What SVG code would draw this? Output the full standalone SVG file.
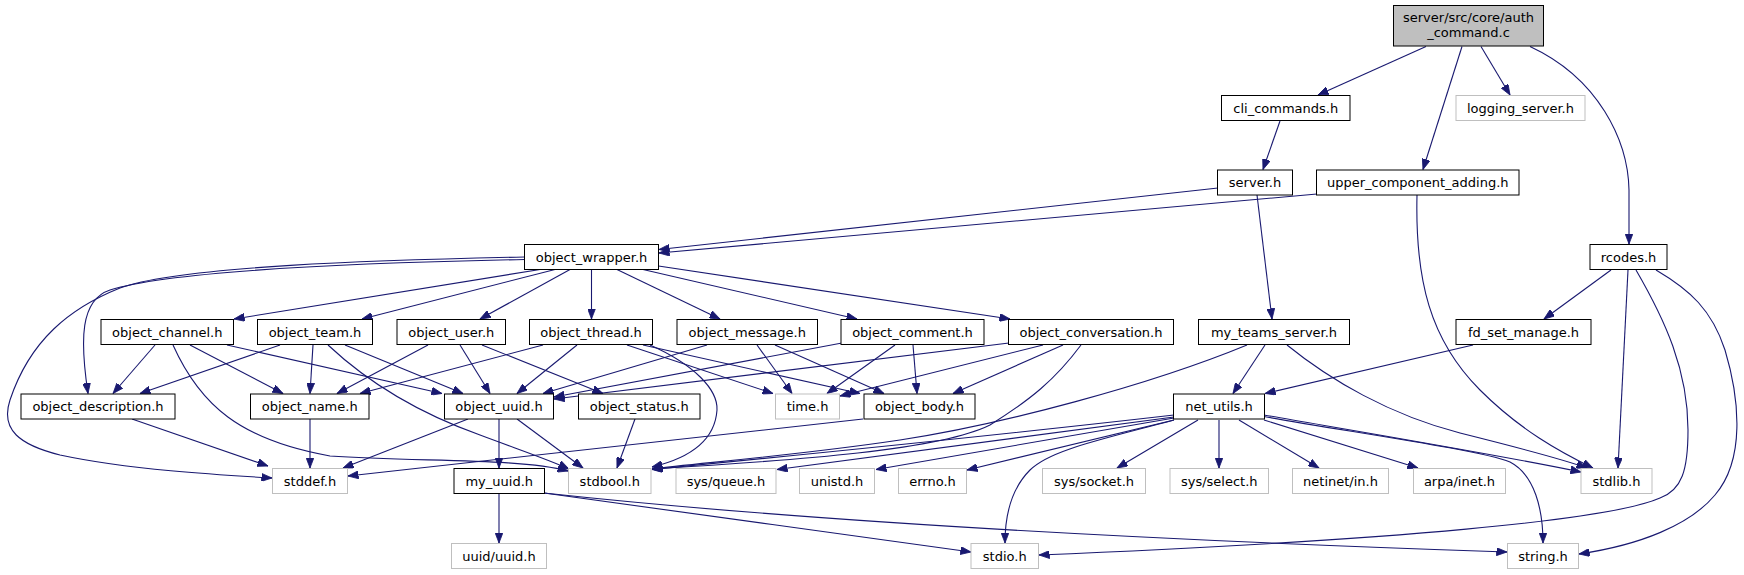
<svg xmlns="http://www.w3.org/2000/svg" width="1744" height="575" viewBox="0 0 1744 575">
<style>
.n rect{fill:#fff;stroke:#000;stroke-width:1}
.g rect{fill:#fff;stroke:#bfbfbf;stroke-width:1}
.r rect{fill:#bfbfbf;stroke:#000;stroke-width:1}
text{font-family:"DejaVu Sans","Liberation Sans",sans-serif;font-size:13px;fill:#000;text-anchor:middle}
.e path{fill:none;stroke:#191970;stroke-width:1.1;marker-end:url(#ah)}
</style>
<defs>
<marker id="ah" markerUnits="userSpaceOnUse" markerWidth="11" markerHeight="8" refX="10.5" refY="4" orient="auto">
<path d="M0,0 L10.5,4 L0,8 z" fill="#191970" stroke="#191970" stroke-width="0.8"/>
</marker>
</defs>
<rect width="1744" height="575" fill="#fff"/>
<g class="e" id="connectors">
<path d="M1426,46.5 L1318,95"/>
<path d="M1462,46.5 L1423,169.5"/>
<path d="M1481,46.5 L1510,95"/>
<path d="M1530,46.5 C1598,78 1628,140 1629,190 L1629,244"/>
<path d="M1280,121 L1263,169.5"/>
<path d="M1218,188 L659,249.5"/>
<path d="M1317,194 L659,253"/>
<path d="M1257,195 L1272,319"/>
<path d="M1417,195 C1415,280 1430,340 1480,390 C1520,430 1560,452 1593,468"/>
<path d="M1611,270 L1544,319"/>
<path d="M1628,270 L1618,468"/>
<path d="M1636,270 C1665,320 1688,370 1688,430 C1688,470 1682,490 1660,498 C1610,520 1400,540 1039,555"/>
<path d="M1656,270 C1690,290 1712,310 1725,350 C1740,400 1745,460 1715,495 C1690,525 1640,545 1579,554"/>
<path d="M1473,345 L1265,393.5"/>
<path d="M1265,345 L1233,393.5"/>
<path d="M1287,345 C1330,380 1390,415 1460,433 C1520,448 1565,460 1587,468"/>
<path d="M1247,345 C1150,385 1000,425 900,440 C800,455 700,463 652,469"/>
<path d="M1174,415 C1000,435 800,455 652,469.5"/>
<path d="M1174,417 L777,469.5"/>
<path d="M1174,418 L876,469.5"/>
<path d="M1174,420 L967,470"/>
<path d="M1174,420 C1100,440 1050,450 1030,470 C1010,490 1005,520 1005,543"/>
<path d="M1198,420 L1117,468"/>
<path d="M1219,420 L1219,468"/>
<path d="M1239,420 L1319,468"/>
<path d="M1264,420 L1418,468"/>
<path d="M1264,415 C1350,430 1500,455 1581,472"/>
<path d="M1264,416.5 C1350,432 1480,450 1510,462 C1535,475 1543,510 1543,543"/>
<path d="M499,494 L499,543"/>
<path d="M544,493 C650,508 850,535 971,552"/>
<path d="M544,493 C700,510 1000,535 1507,552"/>
<path d="M468,419 L343,468"/>
<path d="M499,419 L499,468"/>
<path d="M517,419 L583,468"/>
<path d="M635,419 L617,468"/>
<path d="M310,419 L310,468"/>
<path d="M132,419 L268,466"/>
<path d="M863,419 L348,476"/>
<path d="M543,345 L360,393.5"/>
<path d="M577,345 L517,393.5"/>
<path d="M627,345 L773,393.5"/>
<path d="M643,345 L860,393.5"/>
<path d="M650,345 C695,365 718,390 717,410 C715,440 690,458 652,467"/>
<path d="M707,345 L543,393.5"/>
<path d="M757,345 L792,393.5"/>
<path d="M775,345 L884,393.5"/>
<path d="M842,343 L554,397"/>
<path d="M895,345 L827,393.5"/>
<path d="M913,345 L917,393.5"/>
<path d="M1009,343 L554,399"/>
<path d="M1043,345 L840,396"/>
<path d="M1063,345 L953,393.5"/>
<path d="M1081,345 C1055,380 1030,400 990,425 C940,450 800,460 652,469"/>
<path d="M155,345 L113,393.5"/>
<path d="M190,345 L283,393.5"/>
<path d="M227,345 L442,393.5"/>
<path d="M173,345 C200,405 240,440 330,456 C420,462 520,458 568,471"/>
<path d="M280,345 L140,393.5"/>
<path d="M313,345 L310,393.5"/>
<path d="M345,345 L463,393.5"/>
<path d="M328,345 C360,375 410,410 480,435 C520,450 550,460 569,469"/>
<path d="M428,345 L337,393.5"/>
<path d="M460,345 L490,393.5"/>
<path d="M482,345 L603,393.5"/>
<path d="M540,269.5 L234,319"/>
<path d="M555,269.5 L362,319"/>
<path d="M570,269.5 L480,319"/>
<path d="M591.5,269.5 L591.5,319"/>
<path d="M617,269.5 L720,319"/>
<path d="M643,269.5 L857,319"/>
<path d="M658.5,266 L1010,319"/>
<path d="M524.5,259.5 C400,262 180,268 110,290 C80,300 80,340 88,393.5"/>
<path d="M524.5,257 C380,260 180,266 120,288 C70,308 30,340 10,400 C0,430 20,445 60,455 C130,470 220,475 272,478"/>
</g>
<g id="node-root" class="r"><rect x="1393.5" y="5.5" width="150" height="40.5"/><text x="1468.5" y="22">server/src/core/auth</text><text x="1468.5" y="37">_command.c</text></g>
<g id="node-cli_commands" class="n"><rect x="1221.5" y="95.5" width="128.5" height="25"/><text x="1285.75" y="112.5">cli_commands.h</text></g>
<g id="node-logging_server" class="g"><rect x="1456" y="95.5" width="129" height="25"/><text x="1520.5" y="112.5">logging_server.h</text></g>
<g id="node-server" class="n"><rect x="1217.5" y="170" width="75" height="25"/><text x="1255" y="187">server.h</text></g>
<g id="node-upper_component_adding" class="n"><rect x="1316.5" y="170" width="202.5" height="25"/><text x="1417.75" y="187">upper_component_adding.h</text></g>
<g id="node-object_wrapper" class="n"><rect x="524.5" y="244.5" width="134" height="25"/><text x="591.5" y="261.5">object_wrapper.h</text></g>
<g id="node-rcodes" class="n"><rect x="1590" y="244.5" width="77" height="25"/><text x="1628.5" y="261.5">rcodes.h</text></g>
<g id="node-object_channel" class="n"><rect x="101" y="319.5" width="132.5" height="25"/><text x="167.25" y="336.5">object_channel.h</text></g>
<g id="node-object_team" class="n"><rect x="257.5" y="319.5" width="115" height="25"/><text x="315" y="336.5">object_team.h</text></g>
<g id="node-object_user" class="n"><rect x="397" y="319.5" width="108.5" height="25"/><text x="451.25" y="336.5">object_user.h</text></g>
<g id="node-object_thread" class="n"><rect x="529.5" y="319.5" width="123" height="25"/><text x="591" y="336.5">object_thread.h</text></g>
<g id="node-object_message" class="n"><rect x="677" y="319.5" width="140.5" height="25"/><text x="747.25" y="336.5">object_message.h</text></g>
<g id="node-object_comment" class="n"><rect x="841" y="319.5" width="143" height="25"/><text x="912.5" y="336.5">object_comment.h</text></g>
<g id="node-object_conversation" class="n"><rect x="1008.5" y="319.5" width="165" height="25"/><text x="1091" y="336.5">object_conversation.h</text></g>
<g id="node-my_teams_server" class="n"><rect x="1198.5" y="319.5" width="151" height="25"/><text x="1274" y="336.5">my_teams_server.h</text></g>
<g id="node-fd_set_manage" class="n"><rect x="1456" y="319.5" width="135" height="25"/><text x="1523.5" y="336.5">fd_set_manage.h</text></g>
<g id="node-object_description" class="n"><rect x="21" y="394" width="154" height="25"/><text x="98" y="411">object_description.h</text></g>
<g id="node-object_name" class="n"><rect x="250.5" y="394" width="118.5" height="25"/><text x="309.75" y="411">object_name.h</text></g>
<g id="node-object_uuid" class="n"><rect x="444.5" y="394" width="109" height="25"/><text x="499" y="411">object_uuid.h</text></g>
<g id="node-object_status" class="n"><rect x="578.5" y="394" width="121.5" height="25"/><text x="639.25" y="411">object_status.h</text></g>
<g id="node-time" class="g"><rect x="775.5" y="394" width="64" height="25"/><text x="807.5" y="411">time.h</text></g>
<g id="node-object_body" class="n"><rect x="864" y="394" width="111" height="25"/><text x="919.5" y="411">object_body.h</text></g>
<g id="node-net_utils" class="n"><rect x="1173.5" y="394" width="91" height="25"/><text x="1219" y="411">net_utils.h</text></g>
<g id="node-stddef" class="g"><rect x="272.5" y="468.5" width="75" height="25"/><text x="310" y="485.5">stddef.h</text></g>
<g id="node-my_uuid" class="n"><rect x="454" y="468.5" width="90.5" height="25"/><text x="499.25" y="485.5">my_uuid.h</text></g>
<g id="node-stdbool" class="g"><rect x="568.5" y="468.5" width="82.5" height="25"/><text x="609.75" y="485.5">stdbool.h</text></g>
<g id="node-sys_queue" class="g"><rect x="676" y="468.5" width="100" height="25"/><text x="726" y="485.5">sys/queue.h</text></g>
<g id="node-unistd" class="g"><rect x="799.5" y="468.5" width="75" height="25"/><text x="837" y="485.5">unistd.h</text></g>
<g id="node-errno" class="g"><rect x="898.5" y="468.5" width="68" height="25"/><text x="932.5" y="485.5">errno.h</text></g>
<g id="node-sys_socket" class="g"><rect x="1042.5" y="468.5" width="103" height="25"/><text x="1094" y="485.5">sys/socket.h</text></g>
<g id="node-sys_select" class="g"><rect x="1170" y="468.5" width="98.5" height="25"/><text x="1219.25" y="485.5">sys/select.h</text></g>
<g id="node-netinet_in" class="g"><rect x="1292.5" y="468.5" width="96" height="25"/><text x="1340.5" y="485.5">netinet/in.h</text></g>
<g id="node-arpa_inet" class="g"><rect x="1413.5" y="468.5" width="92" height="25"/><text x="1459.5" y="485.5">arpa/inet.h</text></g>
<g id="node-stdlib" class="g"><rect x="1581" y="468.5" width="71" height="25"/><text x="1616.5" y="485.5">stdlib.h</text></g>
<g id="node-uuid_uuid" class="g"><rect x="451.5" y="543.5" width="95" height="25"/><text x="499" y="560.5">uuid/uuid.h</text></g>
<g id="node-stdio" class="g"><rect x="971" y="543.5" width="67.5" height="25"/><text x="1004.75" y="560.5">stdio.h</text></g>
<g id="node-string" class="g"><rect x="1507.5" y="543.5" width="71" height="25"/><text x="1543" y="560.5">string.h</text></g>
</svg>
